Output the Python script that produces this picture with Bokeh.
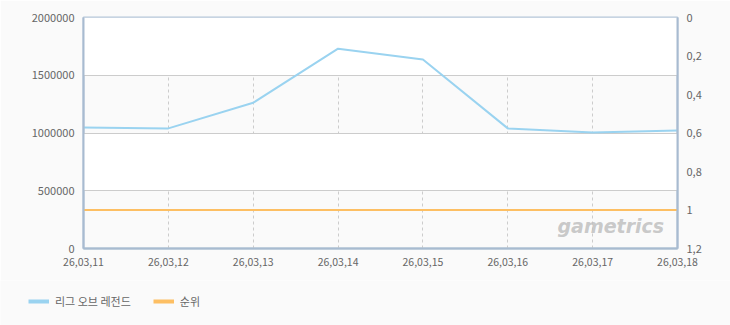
from bokeh.plotting import figure
from bokeh.layouts import column
from bokeh.models import (Range1d, LinearAxis, FixedTicker, CustomJSTickFormatter,
                          Legend, LegendItem, Label, BasicTickFormatter)
from bokeh.embed import file_html
from bokeh.resources import INLINE

dates = ["26,03,11", "26,03,12", "26,03,13", "26,03,14", "26,03,15", "26,03,16", "26,03,17", "26,03,18"]
lol_values = [1048000, 1040000, 1262000, 1730000, 1636000, 1040000, 1004000, 1022000]
rank_values = [1, 1, 1, 1, 1, 1, 1, 1]
left_ticks = [0, 500000, 1000000, 1500000, 2000000]
right_ticks = [0, 0.2, 0.4, 0.6, 0.8, 1, 1.2]
series_names = ["리그 오브 레전드", "순위"]
series_colors = ["#9ad3f0", "#fdbf63"]

xs = list(range(len(dates)))
FONT = "Noto Sans CJK KR"
TXT = "#666666"

p = figure(width=730, height=280, output_backend="svg", toolbar_location=None,
           x_range=Range1d(0, len(dates) - 1), y_range=Range1d(0, 2000000),
           min_border_left=83, min_border_right=53, min_border_top=17, min_border_bottom=32)
p.background_fill_color = "#fafafa"
p.border_fill_color = "#fafafa"
p.outline_line_color = "#b4c6d8"
p.outline_line_width = 2

p.extra_y_ranges = {"rank": Range1d(1.2, 0)}

p.xaxis.ticker = FixedTicker(ticks=xs)
p.xaxis.major_label_overrides = {i: d for i, d in enumerate(dates)}
p.yaxis.ticker = FixedTicker(ticks=left_ticks)
p.yaxis.formatter = BasicTickFormatter(use_scientific=False)

raxis = LinearAxis(y_range_name="rank", ticker=FixedTicker(ticks=right_ticks),
                   formatter=CustomJSTickFormatter(code="return String(Math.round(tick*10)/10).replace('.', ',');"))
p.add_layout(raxis, "right")

for ax in p.axis:
    ax.axis_line_color = "#a8bbd0"
    ax.axis_line_width = 2
    ax.major_tick_line_color = None
    ax.minor_tick_line_color = None
    ax.major_label_text_font = FONT
    ax.major_label_text_font_size = "11px"
    ax.major_label_text_color = TXT
    ax.major_label_standoff = 3
p.xaxis.major_label_text_font_size = "10.5px"

p.xgrid.grid_line_color = "#cccccc"
p.xgrid.grid_line_dash = "3 3"
p.ygrid.grid_line_color = "#cccccc"
p.ygrid.band_fill_color = "#ffffff"
p.ygrid.band_fill_alpha = 1.0

r1 = p.line(xs, lol_values, line_color=series_colors[0], line_width=2)
r2 = p.line(xs, rank_values, y_range_name="rank", line_color=series_colors[1], line_width=2)

wm = Label(x=474, y=12, x_units="screen", y_units="screen", text="gametrics",
           text_font="DejaVu Sans", text_font_style="bold italic", text_font_size="19px",
           text_color="#c2c2c2", text_alpha=0.9)
p.add_layout(wm)

# legend strip below the chart
lf = figure(width=730, height=45, output_backend="svg", toolbar_location=None,
            x_range=Range1d(0, 1), y_range=Range1d(0, 1),
            x_axis_location=None, y_axis_location=None,
            min_border_left=0, min_border_right=0, min_border_top=0, min_border_bottom=0)
lf.background_fill_color = "#fafafa"
lf.border_fill_color = "#fafafa"
lf.outline_line_color = None
lf.xgrid.visible = False
lf.ygrid.visible = False
for fig in (p, lf):
    try:
        fig.frame_align = False
    except Exception:
        pass
lr = [lf.line([5, 6], [5, 6], line_color=c, line_width=4) for c in series_colors]
legend = Legend(items=[LegendItem(label=n, renderers=[r]) for n, r in zip(series_names, lr)],
                orientation="horizontal", location=(28, 16),
                background_fill_alpha=0, border_line_color=None,
                label_text_font=FONT, label_text_font_size="11px", label_text_color=TXT,
                glyph_width=21, glyph_height=8, spacing=22, label_standoff=6, padding=2, margin=0)
lf.add_layout(legend)

layout = column(p, lf, spacing=0)
open("out.html", "w").write(file_html(layout, INLINE))
